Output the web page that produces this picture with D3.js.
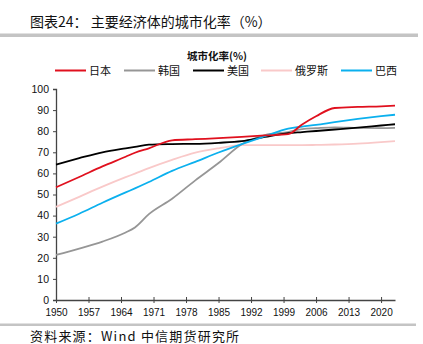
<!DOCTYPE html>
<html>
<head>
<meta charset="utf-8">
<script src="https://cdn.jsdelivr.net/npm/d3@7"></script>
<style>
  body { margin: 0; background: #fff; }
  svg { display: block; }
</style>
</head>
<body>
<svg id="drawing_region"></svg>
<script>
// data
const years = [1950,1955,1960,1965,1967,1970,1975,1980,1985,1990,1995,2000,2003,2006,2010,2015,2020,2023];
const japan  = [53.4,58.3,63.3,67.9,69.8,71.9,75.7,76.2,76.7,77.3,78.0,78.6,83.2,87.1,91.0,91.5,91.8,92.1];
const korea  = [21.4,24.4,27.7,32.0,34.4,40.7,48.0,56.7,64.9,73.8,78.2,79.6,81.0,81.4,81.8,81.6,81.5,81.6];
const usa    = [64.2,67.2,70.0,71.9,72.6,73.6,73.9,74.0,74.5,75.3,77.3,79.1,79.6,80.1,80.8,81.7,82.7,83.3];
const russia = [44.1,48.9,53.7,58.2,59.9,62.5,66.4,69.8,71.9,73.4,73.4,73.4,73.4,73.5,73.7,74.1,74.8,75.3];
const brazil = [36.2,40.9,46.1,51.0,52.9,55.9,61.2,65.5,69.9,73.9,77.6,81.2,82.2,83.0,84.3,85.8,87.1,87.8];
const seriesNames = ["日本","韩国","美国","俄罗斯","巴西"];
const seriesColors = ["#e0101e","#969696","#000000","#f9c9c9","#0bb0ee"];
const xTicks = [1950,1957,1964,1971,1978,1985,1992,1999,2006,2013,2020];
const yTicks = [0,10,20,30,40,50,60,70,80,90,100];

const W = 423, H = 344;
const svg = d3.select('#drawing_region').attr('width', W).attr('height', H);

const font = '"Liberation Sans", Arial, sans-serif';
const cjk = '"Noto Sans CJK SC", sans-serif';

// header
svg.append('text')
    .attr('x', 30).attr('y', 27)
    .attr('font-family', cjk).attr('font-size', 14).attr('fill', '#111')
    .text('图表24：  主要经济体的城市化率（%）');
svg.append('rect').attr('x', 0).attr('y', 33.5).attr('width', 418).attr('height', 3.5).attr('fill', '#c4c4c4');

// footer
svg.append('rect').attr('x', 0).attr('y', 323.5).attr('width', 416).attr('height', 2.5).attr('fill', '#c4c4c4');
svg.append('text')
    .attr('x', 30).attr('y', 341)
    .attr('font-family', cjk).attr('font-size', 13).attr('letter-spacing', 1.2).attr('fill', '#111')
    .text('资料来源：Wind 中信期货研究所');

// scales
const x = d3.scaleLinear().domain([1950, 2023]).range([56, 395]);
const y = d3.scaleLinear().domain([0, 100]).range([300, 89]);

// legend
svg.append('text')
    .attr('x', 217).attr('y', 60)
    .attr('text-anchor', 'middle')
    .attr('font-family', cjk).attr('font-size', 10.5).attr('font-weight', 'bold').attr('fill', '#111')
    .text('城市化率(%)');

const legendX = [55, 124, 193, 261, 341];
const legend = svg.append('g');
seriesNames.forEach((name, i) => {
    legend.append('line')
        .attr('x1', legendX[i]).attr('x2', legendX[i] + 31)
        .attr('y1', 70.5).attr('y2', 70.5)
        .attr('stroke', seriesColors[i]).attr('stroke-width', 2);
    legend.append('text')
        .attr('x', legendX[i] + 34).attr('y', 75)
        .attr('font-family', cjk).attr('font-size', 11).attr('fill', '#111')
        .text(name);
});

// axes
const axisColor = '#444';
const yAxis = svg.append('g')
    .attr('transform', 'translate(56,0)')
    .call(d3.axisLeft(y).tickValues(yTicks).tickSize(3).tickPadding(4));
yAxis.select('.domain').attr('stroke', axisColor).attr('stroke-width', 1.3);
yAxis.selectAll('.tick line').attr('stroke', axisColor);
yAxis.selectAll('text').attr('font-family', font).attr('font-size', 10.5).attr('fill', '#111');

const xAxis = svg.append('g')
    .attr('transform', 'translate(0,300)')
    .call(d3.axisBottom(x).tickValues(xTicks).tickFormat(d3.format('d')).tickSizeInner(3).tickSizeOuter(0).tickPadding(6));
xAxis.select('.domain').attr('stroke', axisColor).attr('stroke-width', 1.3);
xAxis.selectAll('.tick line').attr('stroke', axisColor).attr('y1', -3);
xAxis.selectAll('text').attr('font-family', font).attr('font-size', 10).attr('fill', '#111');

// lines
const allSeries = [japan, korea, usa, russia, brazil];
const line = d3.line()
    .x((d, i) => x(years[i]))
    .y(d => y(d))
    .curve(d3.curveMonotoneX);

const drawOrder = [3, 1, 2, 4, 0];
drawOrder.forEach(i => {
    svg.append('path')
        .datum(allSeries[i])
        .attr('d', line)
        .attr('fill', 'none')
        .attr('stroke', seriesColors[i])
        .attr('stroke-width', 1.8);
});
</script>
</body>
</html>
